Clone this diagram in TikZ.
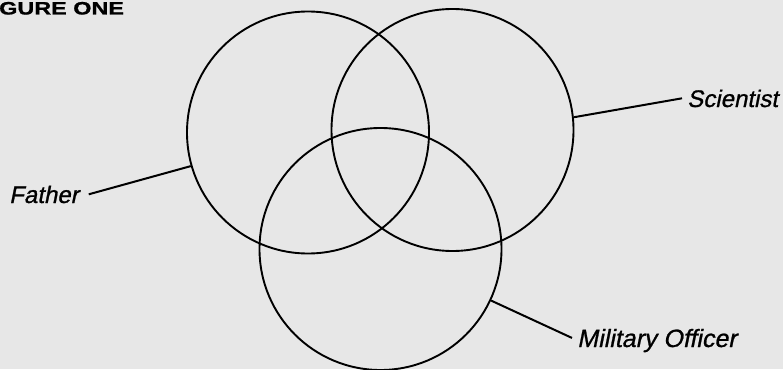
\documentclass[tikz,border=0pt]{standalone}
\usepackage{fontspec}
\setmainfont{Liberation Sans}
\newfontfamily\lblfont[FakeBold=0.9,FakeSlant=0.2]{Liberation Sans}
\newfontfamily\titlefont[FakeStretch=1.3,FakeBold=1]{Liberation Sans Bold}
\definecolor{paper}{RGB}{231,231,231}
\begin{document}
\begin{tikzpicture}[x=1pt,y=-1pt,
  ring/.style={circle, draw=black, line width=1.9pt, minimum size=242pt, inner sep=0pt},
  lbl/.style={font=\lblfont\fontsize{24}{24}\selectfont, inner xsep=5pt, inner ysep=0pt, text depth=0pt},
  lead/.style={line width=2pt}]
\fill[paper] (0,0) rectangle (783,369);
\useasboundingbox (0,0) rectangle (783,369);
\node[anchor=base west, inner sep=0pt, font=\titlefont\fontsize{18}{18}\selectfont] (title) at (-1,14.5) {GURE ONE};
\node[ring] (cf) at (308,132.5) {};
\node[ring] (cs) at (452.5,130) {};
\node[ring] (cm) at (380.5,249) {};
\node[lbl, anchor=base west, inner xsep=10pt] (father) at (-1,203) {Father};
\node[lbl, anchor=base west] (scientist) at (682,107) {Scientist};
\node[lbl, anchor=base west, font=\lblfont\fontsize{25}{25}\selectfont] (military) at (572,347) {Military Officer};
\draw[lead] (father.east) -- (cf.196);
\draw[lead] (scientist.west) -- (cs.6.6);
\draw[lead] (military.west) -- (cm.-25.6);
\end{tikzpicture}
\end{document}
